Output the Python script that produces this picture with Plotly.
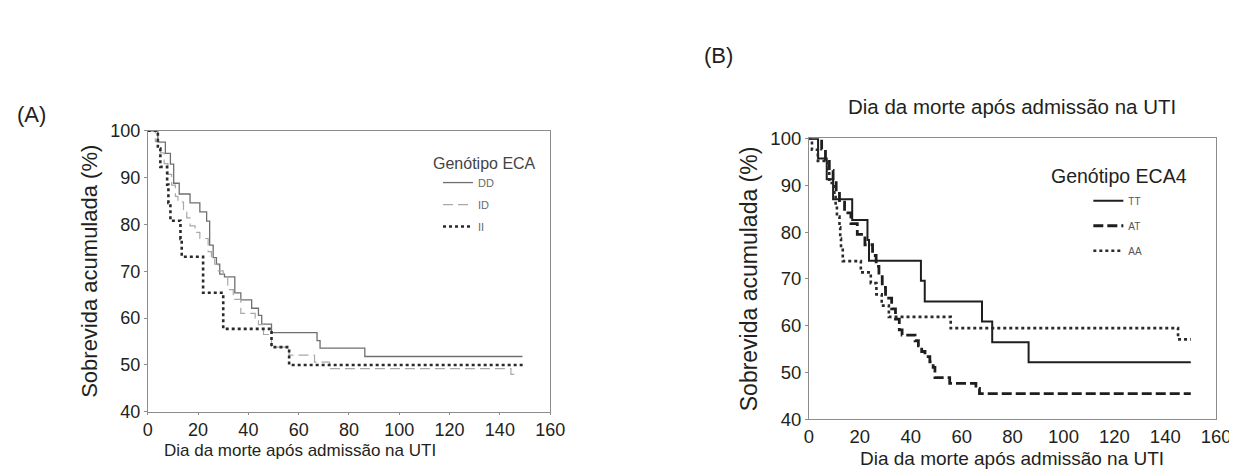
import plotly.graph_objects as go

# ---------------- Data ----------------
tick_vals = [0, 20, 40, 60, 80, 100, 120, 140, 160]
y_ticks = [40, 50, 60, 70, 80, 90, 100]

# Panel A – Genótipo ECA
dd_days = [0, 4, 7, 9, 10.3, 12.5, 16.8, 20.7, 23.4, 24.6, 26, 27.3, 28.6, 30.5, 34.6, 37, 41.3, 44, 45.3, 49.2, 67.3, 68.5, 86.3, 149]
dd_surv = [100, 97.6, 95.2, 92.9, 88.8, 86.5, 84.6, 82.7, 80.7, 75.6, 72.9, 71.5, 69.4, 68.8, 65.4, 63.9, 62.1, 60.6, 58.7, 56.9, 55.2, 53.6, 51.8, 51.8]

id_days = [0, 3, 5, 6.5, 8, 9.5, 11, 12, 14.2, 15.5, 16.8, 18.8, 20.7, 24, 25.3, 26.6, 28, 30, 31.8, 34, 37, 42.7, 44, 46, 49.2, 56.2, 66.3, 72.3, 144.4, 147.3]
id_surv = [100, 97.7, 95.3, 93, 90.7, 88.4, 86, 84.8, 83, 81.4, 79.7, 78.3, 77, 74.2, 72.9, 71.5, 70.1, 68.8, 66.1, 64, 61, 60, 58.6, 56.5, 53.8, 52.1, 50.6, 49.2, 48, 48]

ii_days = [0, 4, 5, 7.7, 8.2, 9, 13, 13.5, 22, 30, 49.2, 56.2, 150]
ii_surv = [100, 96.2, 92.3, 88.5, 84.6, 80.8, 76.9, 73.1, 65.4, 57.7, 53.8, 50, 50]

# Panel B – Genótipo ECA4
tt_days = [0, 3.6, 7, 9.5, 17, 23, 23.6, 44, 45.5, 68, 72, 86.3, 150]
tt_surv = [100, 95.7, 91.3, 87, 82.6, 78.3, 73.9, 69.6, 65.2, 60.9, 56.5, 52.2, 52.2]

at_days = [0, 5, 6.5, 8, 9.5, 10.7, 12, 14, 16.5, 19, 22, 25, 26.4, 27.5, 28.8, 30.1, 32.5, 34, 35.5, 36.6,
           41.7, 43, 44.3, 45.6, 47.5, 48.8, 49.5, 55.3, 65.6, 67, 150]
at_surv = [100, 97.7, 95.5, 93.2, 90.9, 88.6, 86.4, 84.1, 81.8, 79.5, 77.3, 75, 72.7, 70.5, 68.2, 65.9, 63.6, 61.4, 59.1, 58.0,
           56.8, 55.7, 54.5, 53.4, 52.3, 51.1, 48.9, 47.7, 46.6, 45.5, 45.5]

aa_days = [0, 1.2, 3.5, 7.5, 8, 10, 10.5, 11, 12, 12.3, 12.6, 13.3, 20.4, 24.3, 26.5, 28.6, 31.4, 55.7, 145, 150]
aa_surv = [100, 97.6, 95.2, 92.9, 90.5, 88.1, 85.7, 83.3, 81, 78.6, 76.2, 73.8, 71.4, 69.1, 66.7, 64.3, 61.9, 59.5, 57.1, 57.1]

# ---------------- Figure ----------------
W, H = 1237, 473
FONT = "Liberation Sans, Arial, sans-serif"
TXT = "#231f20"
AX = "#8c8c8c"
X_TITLE = "Dia da morte após admissão na UTI"
Y_TITLE = "Sobrevida acumulada (%)"

fig = go.Figure()

def add(x, y, name, color, width, dash, xa, ya, leg, grp):
    fig.add_trace(go.Scatter(
        x=x, y=y, name=name, mode="lines",
        line=dict(shape="hv", color=color, width=width, dash=dash),
        xaxis=xa, yaxis=ya, legend=leg, legendgroup=grp,
    ))

add(dd_days, dd_surv, "DD", "#6f6f6f", 1.3, "solid", "x", "y", "legend", "a1")
add(id_days, id_surv, "ID", "#a8a8a8", 1.2, "10px,5px", "x", "y", "legend", "a2")
add(ii_days, ii_surv, "II", "#2a2a2a", 2.6, "3px,3px", "x", "y", "legend", "a3")

add(tt_days, tt_surv, "TT", "#1e1e1e", 2.0, "solid", "x2", "y2", "legend2", "b1")
add(at_days, at_surv, "AT", "#1e1e1e", 2.8, "10px,4px", "x2", "y2", "legend2", "b2")
add(aa_days, aa_surv, "AA", "#2a2a2a", 2.6, "3px,3px", "x2", "y2", "legend2", "b3")

def xaxis(dom, anchor, tsize, ticks="outside"):
    return dict(domain=dom, range=[0, 160], tickvals=tick_vals, showgrid=False, zeroline=False,
                showline=True, mirror=True, linecolor=AX, linewidth=1, anchor=anchor,
                ticks=ticks, ticklen=2, tickcolor=AX,
                tickfont=dict(size=tsize, color=TXT, family=FONT))

def yaxis(dom, anchor, tsize, title_size, standoff):
    return dict(domain=dom, range=[40, 100], tickvals=y_ticks, showgrid=False, zeroline=False,
                showline=True, mirror=True, linecolor=AX, linewidth=1, anchor=anchor,
                ticks="outside", ticklen=3, tickcolor=AX,
                tickfont=dict(size=tsize, color=TXT, family=FONT),
                title=dict(text=Y_TITLE, font=dict(size=title_size, color=TXT, family=FONT),
                           standoff=standoff))

xA = [137 / W, 546 / W]
yA = [(H - 411) / H, (H - 117) / H]
xB = [809 / W, 1223 / W]
yB = [(H - 419) / H, (H - 125) / H]

def text(t, x, y, size, color=TXT, xanchor="center"):
    return dict(text=t, x=x / W, y=(H - y) / H, xref="paper", yref="paper", xanchor=xanchor,
                yanchor="middle", showarrow=False, font=dict(size=size, color=color, family=FONT))

fig.update_layout(
    width=W, height=H,
    margin=dict(l=0, r=0, t=0, b=0),
    paper_bgcolor="white", plot_bgcolor="white",
    font=dict(family=FONT, color=TXT),
    xaxis=xaxis(xA, "y", 18),
    yaxis=yaxis(yA, "x", 18, 22, 6),
    xaxis2=xaxis(xB, "y2", 18.5, ticks=""),
    yaxis2=yaxis(yB, "x2", 18.5, 23, 6),
    legend=dict(x=432 / W, y=(H - 156) / H, xanchor="left", yanchor="top",
                bgcolor="rgba(0,0,0,0)", font=dict(size=11, color="#6a6a6a", family=FONT),
                itemwidth=30, tracegroupgap=3),
    legend2=dict(x=1093 / W, y=(H - 175) / H, xanchor="left", yanchor="top",
                 bgcolor="rgba(0,0,0,0)", font=dict(size=10, color="#555555", family=FONT),
                 itemwidth=30, tracegroupgap=6),
    annotations=[
        text("(A)", 2, 100, 22, xanchor="left"),
        text("(B)", 700, 38, 22, xanchor="left"),
        text(X_TITLE, 1015, 92, 20.5),
        text(X_TITLE, 292, 452, 17),
        text(X_TITLE, 1015, 460, 19),
        text("Genótipo ECA", 425, 151, 16, color="#444", xanchor="left"),
        text("Genótipo ECA4", 1053, 164, 19.5, xanchor="left"),
    ],
)

fig.write_html("out.html")
